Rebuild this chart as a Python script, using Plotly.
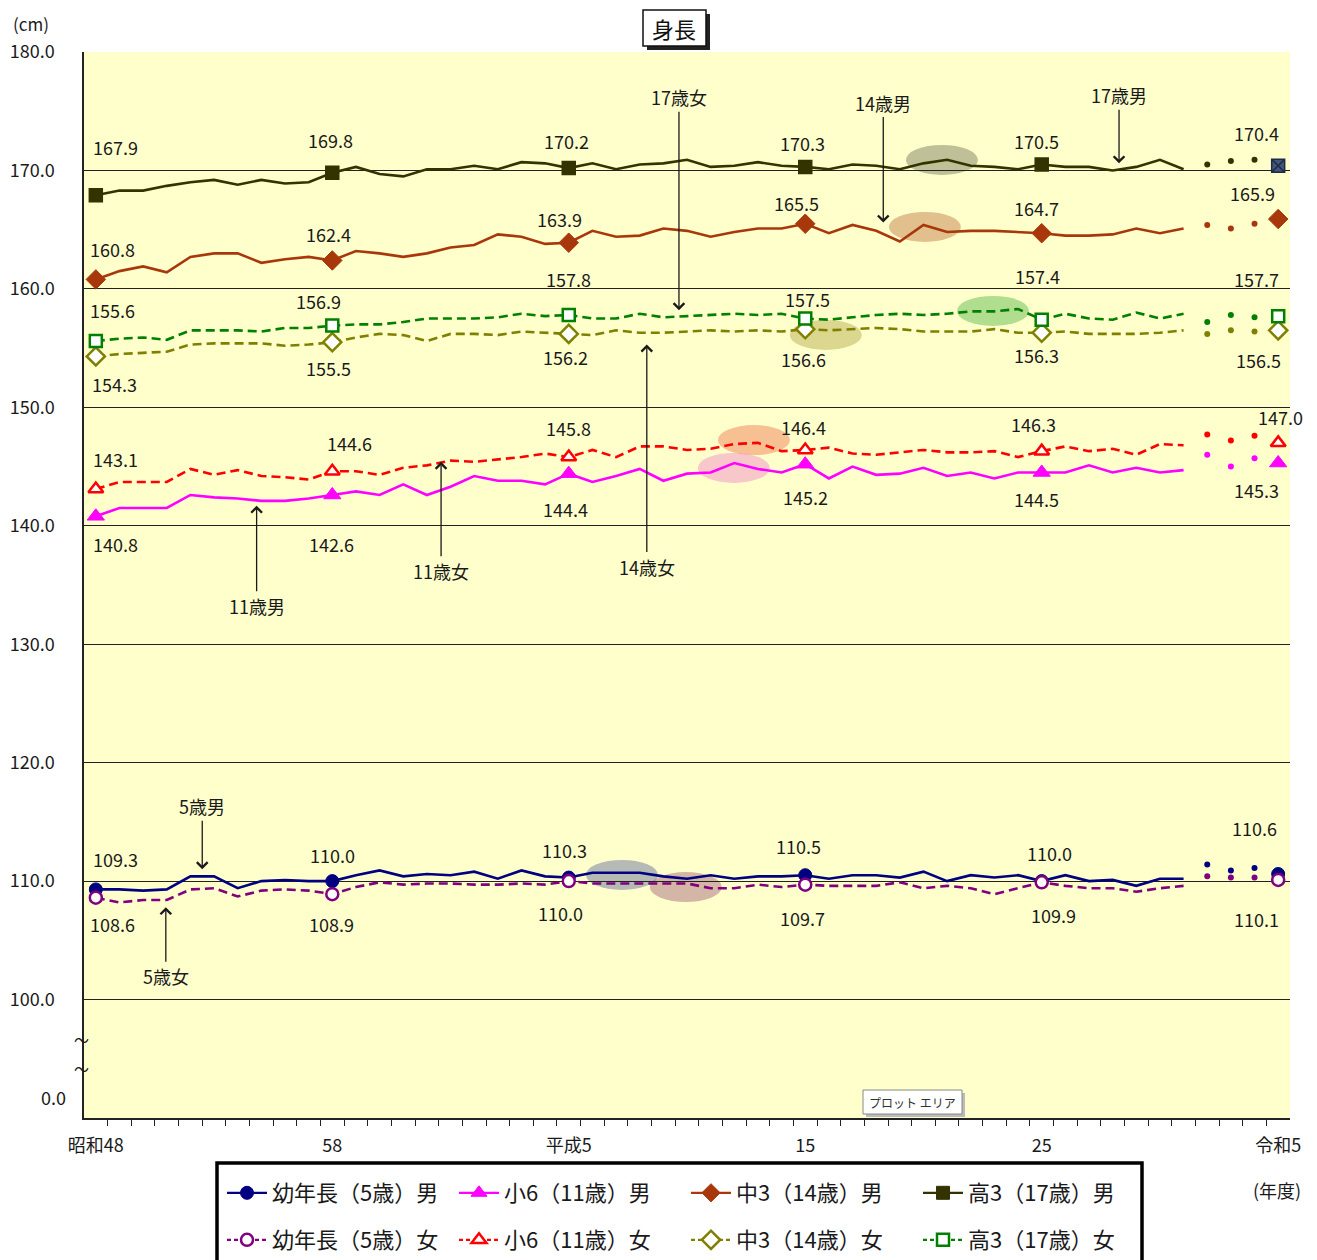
import plotly.graph_objects as go

# ---------------- data ----------------
years = list(range(1973, 2024))          # 昭和48 ... 令和5
LINE_LAST = 2019                          # solid/dashed line up to 令和元
label_years = [1973, 1983, 1993, 2003, 2013, 2023]
xtick_text = ["昭和48", "58", "平成5", "15", "25", "令和5"]
ytick_vals = [100, 110, 120, 130, 140, 150, 160, 170, 180]

boys5 = [109.3, 109.3, 109.2, 109.3, 110.4, 110.4, 109.4, 110.0, 110.1, 110.0,
         110.0, 110.5, 110.9, 110.4, 110.6, 110.5, 110.8, 110.2, 110.9, 110.4,
         110.3, 110.7, 110.7, 110.7, 110.4, 110.2, 110.5, 110.2, 110.4, 110.4,
         110.5, 110.2, 110.5, 110.5, 110.3, 110.8, 110.0, 110.5, 110.3, 110.5,
         110.0, 110.5, 110.0, 110.1, 109.6, 110.2, 110.2, 111.4, 110.9, 111.1,
         110.6]
girls5 = [108.6, 108.2, 108.4, 108.4, 109.3, 109.4, 108.7, 109.2, 109.3, 109.2,
          108.9, 109.5, 109.9, 109.7, 109.8, 109.8, 109.7, 109.7, 109.8, 109.7,
          110.0, 109.8, 109.8, 109.8, 109.8, 109.8, 109.4, 109.4, 109.7, 109.5,
          109.7, 109.6, 109.6, 109.6, 109.9, 109.4, 109.6, 109.4, 108.9, 109.4,
          109.9, 109.6, 109.4, 109.4, 109.1, 109.4, 109.6, 110.4, 110.3, 110.3,
          110.1]
boys11 = [140.8, 141.5, 141.5, 141.5, 142.6, 142.4, 142.3, 142.1, 142.1, 142.3,
          142.6, 142.9, 142.6, 143.5, 142.6, 143.3, 144.2, 143.8, 143.8, 143.5,
          144.4, 143.7, 144.2, 144.8, 143.8, 144.4, 144.5, 145.3, 144.8, 144.5,
          145.2, 144.0, 145.0, 144.3, 144.4, 144.9, 144.2, 144.5, 144.0, 144.5,
          144.5, 144.5, 145.1, 144.5, 144.9, 144.5, 144.7, 146.0, 145.0, 145.7,
          145.3]
girls11 = [143.1, 143.7, 143.7, 143.7, 144.8, 144.3, 144.7, 144.2, 144.1, 143.9,
           144.6, 144.6, 144.3, 144.9, 145.1, 145.5, 145.4, 145.6, 145.8, 146.1,
           145.8, 146.4, 145.8, 146.7, 146.7, 146.4, 146.5, 146.9, 147.0, 146.3,
           146.4, 146.6, 146.1, 146.0, 146.2, 146.4, 146.2, 146.2, 146.3, 145.8,
           146.3, 146.7, 146.3, 146.5, 146.0, 146.9, 146.8, 147.7, 147.2, 147.6,
           147.0]
boys14 = [160.8, 161.5, 161.9, 161.4, 162.7, 163.0, 163.0, 162.2, 162.5, 162.7,
          162.4, 163.2, 163.0, 162.7, 163.0, 163.5, 163.7, 164.6, 164.4, 163.8,
          163.9, 164.9, 164.4, 164.5, 165.1, 164.9, 164.4, 164.8, 165.1, 165.1,
          165.5, 164.7, 165.4, 164.9, 164.0, 165.4, 164.8, 164.9, 164.9, 164.8,
          164.7, 164.5, 164.5, 164.6, 165.1, 164.7, 165.1, 165.4, 165.1, 165.5,
          165.9]
girls14 = [154.3, 154.5, 154.6, 154.7, 155.3, 155.4, 155.4, 155.4, 155.2, 155.3,
           155.5, 155.9, 156.2, 156.1, 155.6, 156.2, 156.2, 156.1, 156.4, 156.3,
           156.2, 156.1, 156.5, 156.3, 156.3, 156.4, 156.5, 156.4, 156.5, 156.4,
           156.6, 156.5, 156.6, 156.7, 156.6, 156.4, 156.4, 156.4, 156.6, 156.3,
           156.3, 156.4, 156.2, 156.2, 156.2, 156.3, 156.5, 156.2, 156.5, 156.4,
           156.5]
boys17 = [167.9, 168.3, 168.3, 168.7, 169.0, 169.2, 168.8, 169.2, 168.9, 169.0,
          169.8, 170.3, 169.7, 169.5, 170.1, 170.1, 170.4, 170.1, 170.7, 170.6,
          170.2, 170.6, 170.1, 170.5, 170.6, 170.9, 170.3, 170.4, 170.7, 170.4,
          170.3, 170.1, 170.5, 170.4, 170.1, 170.6, 170.9, 170.4, 170.3, 170.1,
          170.5, 170.3, 170.3, 170.0, 170.3, 170.9, 170.1, 170.5, 170.8, 170.9,
          170.4]
girls17 = [155.6, 155.8, 155.9, 155.7, 156.5, 156.5, 156.5, 156.4, 156.7, 156.7,
           156.9, 157.0, 157.0, 157.2, 157.5, 157.5, 157.5, 157.6, 157.9, 157.7,
           157.8, 157.5, 157.5, 157.9, 157.6, 157.7, 157.8, 157.9, 157.8, 157.9,
           157.5, 157.4, 157.6, 157.8, 157.9, 157.8, 157.9, 158.1, 158.1, 158.3,
           157.4, 157.9, 157.5, 157.4, 158.0, 157.5, 157.9, 157.2, 157.8, 157.6,
           157.7]

names = {
    "m5": "幼年長（5歳）男", "m11": "小6（11歳）男", "m14": "中3（14歳）男", "m17": "高3（17歳）男",
    "f5": "幼年長（5歳）女", "f11": "小6（11歳）女", "f14": "中3（14歳）女", "f17": "高3（17歳）女",
}
values = {"m5": boys5, "f5": girls5, "m11": boys11, "f11": girls11,
          "m14": boys14, "f14": girls14, "m17": boys17, "f17": girls17}

# ---------------- styles ----------------
FONT = "Noto Sans CJK JP"
TXT = "#1a1a1a"
style = {
    "m5":  dict(color="#000080", dash="solid", symbol="circle", open=False, size=13),
    "f5":  dict(color="#800080", dash="9px,5px", symbol="circle", open=True, size=12),
    "m11": dict(color="#FF00FF", dash="solid", symbol="triangle-up", open=False, size=15),
    "f11": dict(color="#FF0000", dash="9px,5px", symbol="triangle-up", open=True, size=13),
    "m14": dict(color="#A8380C", dash="solid", symbol="diamond", open=False, size=15),
    "f14": dict(color="#808000", dash="9px,5px", symbol="diamond", open=True, size=14),
    "m17": dict(color="#333300", dash="solid", symbol="square", open=False, size=13),
    "f17": dict(color="#008000", dash="9px,5px", symbol="square", open=True, size=12),
}
# value label offsets (pixels from marker) for each labelled year
label_offsets = {
    "m17": [(20, -48), (-2, -33), (-2, -27), (-3, -24), (-5, -24), (-22, -33)],
    "m14": [(17, -30), (-4, -26), (-9, -24), (-9, -21), (-5, -25), (-26, -26)],
    "f17": [(17, -31), (-14, -25), (0, -36), (2, -20), (-4, -44), (-22, -37)],
    "f14": [(19, 28), (-4, 26), (-3, 23), (-2, 30), (-5, 22), (-20, 30)],
    "f11": [(20, -30), (17, -28), (0, -29), (-2, -23), (-8, -27), (2, -26)],
    "m11": [(20, 28), (-1, 49), (-3, 35), (0, 33), (-5, 27), (-22, 27)],
    "m5":  [(20, -30), (0, -26), (-4, -28), (-7, -29), (8, -28), (-24, -46)],
    "f5":  [(17, 26), (-1, 30), (-8, 32), (-3, 33), (12, 33), (-22, 39)],
}

order = ["m5", "f5", "m11", "f11", "m14", "f14", "m17", "f17"]

fig = go.Figure()

def marker_dict(st, size):
    if st["open"]:
        return dict(symbol=st["symbol"], size=size, color="white",
                    line=dict(color=st["color"], width=2.5))
    return dict(symbol=st["symbol"], size=size, color=st["color"],
                line=dict(color=st["color"], width=1))

# lines
for k in order:
    st = style[k]
    xs = [y for y in years if y <= LINE_LAST]
    ys = [v for y, v in zip(years, values[k]) if y <= LINE_LAST]
    fig.add_trace(go.Scatter(x=xs, y=ys, mode="lines", showlegend=False, hoverinfo="skip",
                             line=dict(color=st["color"], width=2.6, dash=st["dash"])))
# dots (2020-2022)
for k in order:
    st = style[k]
    xs = [y for y in years if LINE_LAST < y < 2023]
    ys = [v for y, v in zip(years, values[k]) if LINE_LAST < y < 2023]
    fig.add_trace(go.Scatter(x=xs, y=ys, mode="markers", showlegend=False, hoverinfo="skip",
                             marker=dict(symbol="circle", size=6, color=st["color"])))
# markers at labelled years
for k in order:
    st = style[k]
    ys = [values[k][years.index(y)] for y in label_years]
    mk = marker_dict(st, st["size"])
    if k == "m17":
        mk = dict(symbol=["square"] * 5 + ["square-x"], size=st["size"],
                  color=[st["color"]] * 5 + ["#44557A"],
                  line=dict(color=[st["color"]] * 5 + ["#1F2A44"], width=1.5))
    fig.add_trace(go.Scatter(x=label_years, y=ys, mode="markers", showlegend=False,
                             hoverinfo="skip", marker=mk))
# legend-only entries
for k in ["m5", "m11", "m14", "m17", "f5", "f11", "f14", "f17"]:
    st = style[k]
    fig.add_trace(go.Scatter(x=[None], y=[None], mode="lines+markers", name=names[k],
                             legend="legend" if k.startswith("m") else "legend2",
                             line=dict(color=st["color"], width=2.2,
                                       dash="solid" if st["dash"] == "solid" else "4px,3px"),
                             marker=marker_dict(st, min(st["size"], 14))))

annotations = []
# value labels
for k in order:
    for (yr, (dx, dy)) in zip(label_years, label_offsets[k]):
        v = values[k][years.index(yr)]
        annotations.append(dict(x=yr, y=v, xref="x", yref="y", text=f"{v:.1f}",
                                showarrow=False, xshift=dx, yshift=-dy,
                                xanchor="center", yanchor="middle",
                                font=dict(family=FONT, size=18, color=TXT)))

# series arrows: (text, year, value at arrow head, tail offset in px)
arrows = [
    ("17歳女", 1997.66, 158.2, -213),
    ("14歳男", 2006.3, 165.6, -120),
    ("17歳男", 2016.27, 170.6, -68),
    ("14歳女", 1996.3, 155.3, 222),
    ("11歳女", 1987.6, 145.4, 109),
    ("11歳男", 1979.8, 141.7, 100),
    ("5歳男", 1977.5, 111.0, -63),
    ("5歳女", 1975.96, 107.8, 69),
]
for t, yr, v, ay in arrows:
    annotations.append(dict(x=yr, y=v, xref="x", yref="y", text=t, showarrow=True,
                            ax=0, ay=ay, arrowhead=4, arrowsize=1.6, arrowwidth=1.3,
                            arrowcolor="#1a1a1a", standoff=0,
                            font=dict(family=FONT, size=18, color=TXT)))

W, H = 1317, 1260
ML, MR, MT, MB = 84, 27, 52, 142
PW, PH = W - ML - MR, H - MT - MB

def px(x):
    return (x - ML) / PW

def py(y):
    return (H - MB - y) / PH

def paper_text(x, y, text, size, color=TXT, xanchor="center", yref="paper"):
    return dict(x=px(x), y=(py(y) if yref == "paper" else y), xref="paper", yref=yref,
                text=text, showarrow=False, xanchor=xanchor, yanchor="middle",
                font=dict(family=FONT, size=size, color=color))

annotations += [
    paper_text(674, 28, "身長", 22, "#111"),
    paper_text(31, 24, "(cm)", 17),
    paper_text(1277, 1190, "(年度)", 18),
    paper_text(68, 91.8, "0.0", 18, xanchor="right", yref="y"),
    paper_text(81, 96.6, "〜", 15, yref="y"),
    paper_text(81, 94.2, "〜", 15, yref="y"),
    paper_text(912, 1102, "プロット エリア", 12, "#333"),
]

# highlight ellipses: (year, value, colour)
ellipses = [
    (2008.78, 170.89, "rgba(140,140,110,0.55)"),
    (2008.06, 165.23, "rgba(200,140,90,0.55)"),
    (2010.94, 158.14, "rgba(100,190,80,0.5)"),
    (2003.87, 156.11, "rgba(185,175,80,0.5)"),
    (2000.83, 147.24, "rgba(240,130,90,0.5)"),
    (1999.98, 144.88, "rgba(240,130,200,0.45)"),
    (1995.25, 110.52, "rgba(120,130,160,0.55)"),
    (1997.95, 109.50, "rgba(170,110,130,0.5)"),
]
shapes = []
for yr, v, c in ellipses:
    shapes.append(dict(type="circle", xref="x", yref="y", xsizemode="pixel", ysizemode="pixel",
                       xanchor=yr, yanchor=v, x0=-36, x1=36, y0=-15, y1=15,
                       fillcolor=c, line=dict(width=0), layer="below"))
# title box with shadow
shapes.append(dict(type="rect", xref="paper", yref="paper", x0=px(647), x1=px(710),
                   y0=py(50), y1=py(14), fillcolor="#222", line=dict(width=0)))
shapes.append(dict(type="rect", xref="paper", yref="paper", x0=px(643), x1=px(706),
                   y0=py(46), y1=py(10), fillcolor="white", line=dict(color="#111", width=1.5)))
# "plot area" tooltip box
shapes.append(dict(type="rect", xref="paper", yref="paper", x0=px(866), x1=px(965),
                   y0=py(1117), y1=py(1093), fillcolor="#BBBBBB", line=dict(width=0)))
shapes.append(dict(type="rect", xref="paper", yref="paper", x0=px(863), x1=px(962),
                   y0=py(1114), y1=py(1090), fillcolor="white", line=dict(color="#888", width=1)))
# legend frame
shapes.append(dict(type="rect", xref="paper", yref="paper", x0=px(217), x1=px(1142),
                   y0=py(1264), y1=py(1163), fillcolor="rgba(0,0,0,0)",
                   line=dict(color="black", width=3.5)))

legend_common = dict(orientation="h", xanchor="left", yanchor="middle",
                     font=dict(family=FONT, size=22, color=TXT), itemwidth=40,
                     entrywidth=177, entrywidthmode="pixels", bgcolor="rgba(0,0,0,0)",
                     borderwidth=0, traceorder="normal", itemclick=False)

fig.update_layout(
    width=W, height=H,
    margin=dict(l=ML, r=MR, t=MT, b=MB, autoexpand=False),
    paper_bgcolor="white", plot_bgcolor="#FFFFCC",
    font=dict(family=FONT, size=18, color=TXT),
    xaxis=dict(range=[1972.5, 2023.5], showgrid=False, zeroline=False, automargin=False,
               showline=True, linecolor="#222", linewidth=1.5,
               tickmode="array", tickvals=label_years, ticktext=xtick_text, ticks="",
               ticklabelstandoff=11, tickfont=dict(family=FONT, size=18, color=TXT),
               minor=dict(ticks="outside", ticklen=6, tickcolor="#222", tickwidth=1,
                          tickmode="array", tickvals=[y + 0.5 for y in years[:-1]],
                          showgrid=False)),
    yaxis=dict(range=[90, 180], tickmode="array", tickvals=ytick_vals, automargin=False,
               ticktext=[f"{v:.1f}" for v in ytick_vals], ticks="",
               showgrid=True, gridcolor="#222", gridwidth=1.2, zeroline=False,
               showline=True, linecolor="#222", linewidth=1.5,
               ticklabelstandoff=24, tickfont=dict(family=FONT, size=18, color=TXT)),
    legend=dict(x=px(222), y=py(1193), **legend_common),
    legend2=dict(x=px(222), y=py(1240), **legend_common),
    annotations=annotations,
    shapes=shapes,
)

fig.write_html("out.html", config={"displayModeBar": False},
               post_script="document.body.style.margin='0px';")
